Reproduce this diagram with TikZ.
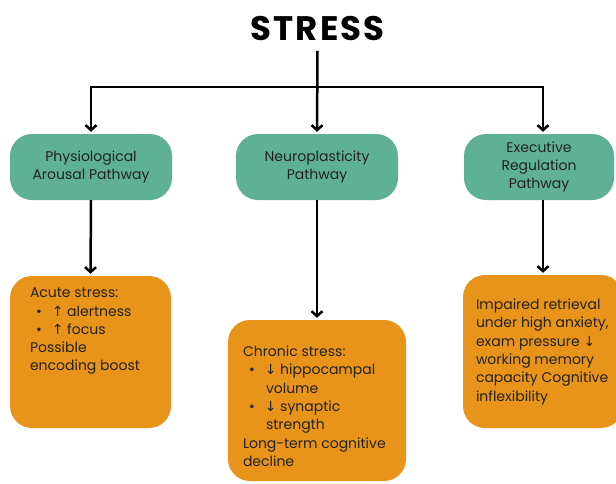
\documentclass[tikz,border=0pt]{standalone}
\usepackage{fontspec}
\setmainfont{Poppins}
\newfontfamily\symfont{DejaVu Sans}
\newfontfamily\titlefont[LetterSpace=6]{Poppins Bold}
\usepackage{tikz}
\usetikzlibrary{arrows.meta}
\definecolor{pathgreen}{HTML}{5FB196}
\definecolor{cardorange}{HTML}{E8941A}
\definecolor{inkc}{HTML}{222222}

\newcommand\uparr{{\symfont ↑}}
\newcommand\dnarr{{\symfont ↓}}
\newcommand\bulitem{\hspace*{6pt}•\hspace*{10pt}}
\newcommand\contind{\hspace*{23pt}}

\tikzset{
  pathbox/.style={fill=pathgreen, rounded corners=22pt, minimum height=66pt,
    align=center, text=inkc, font=\fontsize{14}{18}\selectfont},
  card/.style={fill=cardorange, rounded corners=22pt,
    text=inkc, font=\fontsize{14}{18.3}\selectfont},
  flow/.style={line width=2.5pt, -{Straight Barb[length=5pt,width=11pt,line width=2.5pt]},
    shorten >=2pt},
}

\begin{document}
\begin{tikzpicture}[x=1pt, y=-1pt]
  \useasboundingbox (0,0) rectangle (616,483);
  \clip (0,0) rectangle (616,483);

  \node[inner xsep=0pt, inner ysep=10pt, font=\titlefont\fontsize{34}{34}\selectfont] (stress) at (317.5,28.5) {STRESS};
  \coordinate (split) at (317,87);

  % pathways
  \node[pathbox, minimum width=162pt] (phys) at (91,167) {Physiological\\Arousal Pathway};
  \node[pathbox, minimum width=162pt] (neuro) at (317,167) {Neuroplasticity\\Pathway};
  \node[pathbox, minimum width=150pt] (exec) at (539,167) {Executive\\Regulation\\Pathway};

  % effects
  \node[card, inner xsep=20pt, inner ysep=12pt] (acute) at (90.5,352) {\parbox[c][128pt][t]{121pt}{\raggedright
    Acute stress:\\
    \bulitem\uparr\ alertness\\
    \bulitem\uparr\ focus\\
    Possible\\
    encoding boost}};
  \node[card, inner xsep=15pt, inner ysep=26pt] (chronic) at (317,400.5) {\parbox[c][109pt][t]{148pt}{\raggedright
    Chronic stress:\\
    \bulitem\dnarr\ hippocampal\\
    \contind volume\\
    \bulitem\dnarr\ synaptic\\
    \contind strength\\
    Long-term cognitive\\
    decline}};
  \node[card, inner xsep=13pt, inner ysep=24pt] (impaired) at (543,351.5) {\parbox[c][105pt][t]{134pt}{\raggedright
    Impaired retrieval\\
    under high anxiety,\\
    exam pressure \dnarr\\
    working memory\\
    capacity Cognitive\\
    inflexibility}};

  \draw[flow] (stress.south) -- (neuro.north);
  \draw[flow] (split) -| (phys.north);
  \draw[flow] (split) -| ([xshift=4pt]exec.north);
  \draw[flow] (phys.south) -- (acute.north);
  \draw[flow] (neuro.south) -- (chronic.north);
  \draw[flow] ([xshift=4pt]exec.south) -- (impaired.north);
\end{tikzpicture}
\end{document}
